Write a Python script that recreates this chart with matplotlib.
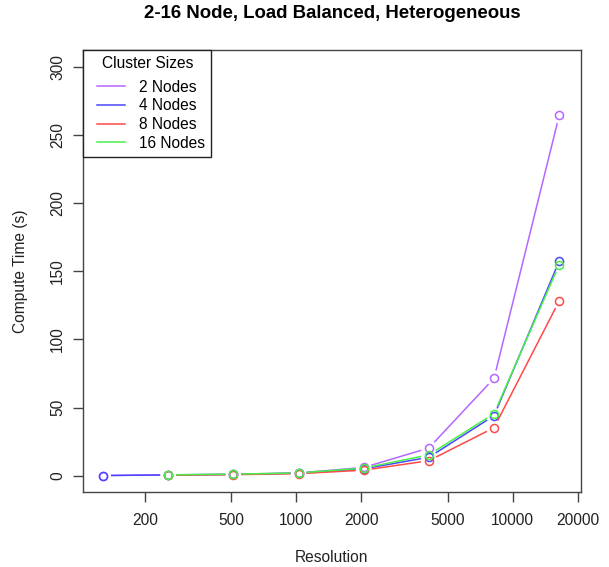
import numpy as np
import matplotlib
matplotlib.use("Agg")
import matplotlib.pyplot as plt
from matplotlib.lines import Line2D
from matplotlib.legend_handler import HandlerBase
from matplotlib.ticker import FixedLocator, NullLocator

plt.rcParams['font.family'] = ['Liberation Sans', 'DejaVu Sans']

resolution = [128, 256, 512, 1024, 2048, 4096, 8192, 16384]
nodes2 = [0.1, 0.6, 1.0, 2.0, 6.0, 20.3, 71.5, 264.5]
nodes4 = [0.1, 0.5, 0.9, 1.8, 5.0, 13.5, 44.0, 157.5]
nodes8 = [np.nan, 0.4, 0.7, 1.5, 4.0, 11.0, 35.2, 128.3]
nodes16 = [np.nan, 0.6, 1.1, 2.0, 5.5, 15.3, 45.5, 155.0]
labels = ["2 Nodes", "4 Nodes", "8 Nodes", "16 Nodes"]
colors = ["#B566FF", "#4848FF", "#FF4848", "#48F048"]
xticks = [200, 500, 1000, 2000, 5000, 10000, 20000]
yticks = [0, 50, 100, 150, 200, 250, 300]

fig = plt.figure(figsize=(6.09, 5.67), dpi=100)
ax = fig.add_axes([83/609, 1-492/567, (581-83)/609, (492-50)/567])
ax.set_xscale('log')
ax.set_xlim(10**2.015, 10**4.315)
ax.set_ylim(-12, 312.5)

fs = 11.2
ax.xaxis.set_major_locator(FixedLocator(xticks))
ax.xaxis.set_minor_locator(NullLocator())
ax.set_xticklabels([str(t) for t in xticks], fontsize=fs, color='#222222')
ax.set_yticks(yticks)
ax.set_yticklabels([str(t) for t in yticks], fontsize=fs, rotation=90, va='center', color='#222222')
ax.tick_params(axis='both', length=7, width=1, color='#444444')
ax.tick_params(axis='x', pad=8.2)
ax.tick_params(axis='y', pad=6)
for s in ax.spines.values():
    s.set_color('#444444')
    s.set_linewidth(1)

series = [nodes2, nodes4, nodes8, nodes16]
gap = 8.0
trans = ax.transData
inv = trans.inverted()
for vals, c in zip(series, colors):
    pts = [(x, y) for x, y in zip(resolution, vals) if not np.isnan(y)]
    disp = trans.transform(np.array(pts, dtype=float))
    for i in range(len(disp) - 1):
        p0, p1 = disp[i], disp[i + 1]
        d = p1 - p0
        L = np.hypot(*d)
        if L > 2 * gap:
            u = d / L
            q = inv.transform(np.array([p0 + u * gap, p1 - u * gap]))
            ax.plot(q[:, 0], q[:, 1], color=c, lw=1.1, solid_capstyle='butt')
    xs = [p[0] for p in pts]
    ys = [p[1] for p in pts]
    ax.plot(xs, ys, linestyle='none', marker='o', markersize=5.8,
            markerfacecolor='none', markeredgecolor=c, markeredgewidth=1.1)


class OffsetLineHandler(HandlerBase):
    def create_artists(self, legend, orig_handle, xdescent, ydescent,
                       width, height, fontsize, trans):
        off = width * 0.22
        y = height / 2 - ydescent
        ln = Line2D([off - xdescent, width - xdescent], [y, y],
                    color=orig_handle.get_color(), lw=orig_handle.get_linewidth())
        ln.set_transform(trans)
        return [ln]


handles = [Line2D([0], [0], color=c, lw=1.1) for c in colors]
leg = ax.legend(handles, labels, title="Cluster Sizes", loc='upper left',
                bbox_to_anchor=(0, 1), borderaxespad=0, fontsize=fs,
                title_fontsize=fs, fancybox=False, framealpha=1,
                edgecolor='#222222', handlelength=2.31, handletextpad=0.9,
                labelspacing=0.24, borderpad=0.4,
                handler_map={Line2D: OffsetLineHandler()})
leg.get_frame().set_linewidth(1)
leg._legend_box.sep = 6.0

ax.set_xlabel("Resolution", fontsize=fs, labelpad=15.5, color='#222222')
ax.set_ylabel("Compute Time (s)", fontsize=fs, labelpad=15.7, color='#222222')
fig.text(332/609, 1-14/567, "2-16 Node, Load Balanced, Heterogeneous",
         ha='center', va='center', fontsize=13.4, fontweight='bold')

fig.savefig("out.png", dpi=100)
